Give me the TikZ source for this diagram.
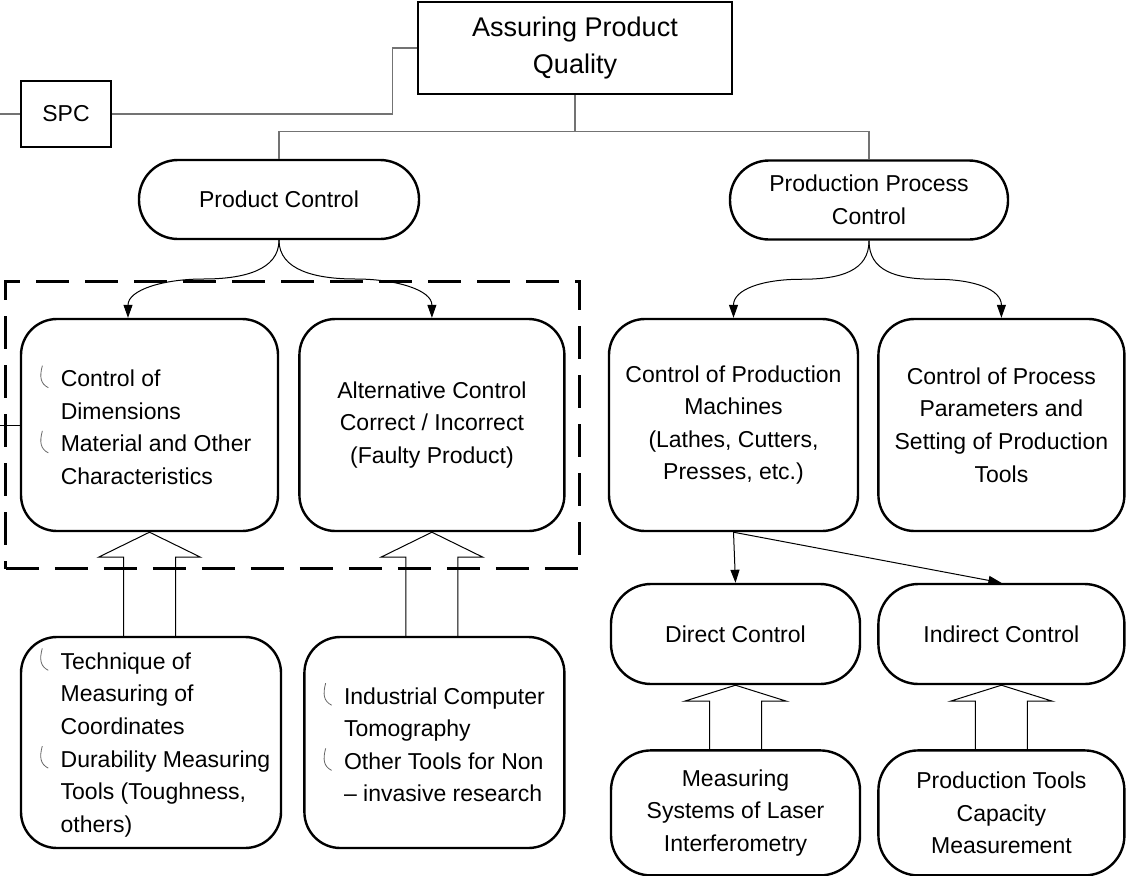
\documentclass[tikz,border=0pt]{standalone}
\usepackage{fontspec}
\setmainfont{Liberation Sans}
\usetikzlibrary{arrows.meta, positioning, fit, calc}

\newlength{\bulind}
\newcommand{\hookmark}{\tikz[baseline=0pt]\draw[line width=0.8pt, black!60] (2pt,21pt) .. controls (-1pt,10pt) and (0pt,3pt) .. (8pt,-1pt);}
\newcommand{\bul}{\hspace*{\bulind}\llap{\hookmark\hspace{12pt}}}
\newcommand{\ind}{\hspace*{\bulind}}

\begin{document}
\begin{tikzpicture}[x=1pt, y=-1pt,
    every node/.style={font=\fontsize{23}{32.6}\selectfont, inner sep=0pt},
    headbox/.style={draw, line width=2.4pt, minimum width=314pt, minimum height=92pt, align=center, font=\fontsize{27}{37}\selectfont},
    spcbox/.style={draw, line width=2.4pt, minimum width=90pt, minimum height=66pt},
    pill/.style={draw, line width=2.4pt, rounded corners=39pt, minimum height=79pt, align=center},
    bigbox/.style={draw, line width=2.4pt, rounded corners=36pt, minimum height=212pt, align=center},
    listbox/.style={bigbox, align=left, execute at begin node={\setlength{\bulind}{#1}}},
    lowbox/.style={draw, line width=2.4pt, rounded corners=40pt, align=center},
    elbow/.style={line width=1.1pt, black!55},
    flow/.style={-{Triangle[length=13pt, width=9pt]}, line width=1pt},
    hollow/.style={line width=1pt},
    group/.style={draw, line width=3pt, dash pattern=on 33pt off 16pt}
]

\useasboundingbox (0,0) rectangle (1126,875);

% Top of the tree
\node[headbox] (quality) at (575,48) {Assuring Product\\Quality};
\node[spcbox] (spc) at (66,114) {SPC};
\node[pill, minimum width=280pt] (prod) at (279,199.5) {Product Control};
\node[pill, minimum width=278pt] (proc) at (869,200) {Production Process\\Control};

% Product control branch
\node[listbox=13pt, minimum width=257pt] (dims) at (149.5,425) {\bul Control of\\\ind Dimensions\\\bul Material and Other\\\ind Characteristics};
\node[bigbox, minimum width=265pt, right=19pt of dims] (alt) {Alternative Control\\Correct / Incorrect\\(Faulty Product)};
\node[listbox=29pt, minimum width=260pt, minimum height=211pt] (coord) at (151,742.5) {\bul Technique of\\\ind Measuring of\\\ind Coordinates\\\bul Durability Measuring\\\ind Tools (Toughness,\\\ind others)};
\node[listbox=20pt, minimum width=260pt, minimum height=211pt, right=21pt of coord] (tomo) {\bul Industrial Computer\\\ind Tomography\\\bul Other Tools for Non\\\ind – invasive research};

% Production process branch
\node[bigbox, minimum width=249pt] (mach) at (733.5,425) {Control of Production\\Machines\\(Lathes, Cutters,\\Presses, etc.)};
\node[bigbox, minimum width=246pt, right=18pt of mach] (param) {Control of Process\\Parameters and\\Setting of Production\\Tools};
\node[lowbox, minimum width=249pt, minimum height=100pt] (direct) at (735.5,634) {Direct Control};
\node[lowbox, minimum width=246pt, minimum height=100pt, right=16pt of direct] (indirect) {Indirect Control};
\node[lowbox, minimum width=249pt, minimum height=125pt, below=64pt of direct] (laser) {Measuring\\Systems of Laser\\Interferometry};
\node[lowbox, minimum width=246pt, minimum height=125pt, below=64pt of indirect] (capacity) {Production Tools\\Capacity\\Measurement};

% Tree lines
\coordinate (bus) at ($(prod.north)+(0,-27)$);
\coordinate (spcin) at (0,114);
\coordinate (dimsin) at (0,425);
\draw[elbow] (quality.south) -- (quality.south |- bus);
\draw[elbow] (prod.north) -- (bus) -| (proc.north);
\draw[elbow] (spc.east) -- ++(280,0) |- (quality.west);
\draw[elbow] (spcin) -- (spc.west);
\draw[line width=1pt] (dimsin) -- (dims.west);

% Dashed group round the product checks
\node[group, fit=(dims)(alt), inner xsep=14pt, inner ysep=36.5pt] (check) {};

% Curved arrows
\coordinate (dimstip) at ($(dims.north)+(-21.5,0)$);
\coordinate (prodL) at ($(prod.south)!0.5!(dimstip)$);
\coordinate (prodR) at ($(prod.south)!0.5!(alt.north)$);
\coordinate (procL) at ($(proc.south)!0.5!(mach.north)$);
\coordinate (procR) at ($(proc.south)!0.5!(param.north)$);
\draw[flow] (prod.south) .. controls +(0,30) and +(40,0) .. (prodL) .. controls +(-40,0) and +(0,-28) .. (dimstip);
\draw[flow] (prod.south) .. controls +(0,30) and +(-40,0) .. (prodR) .. controls +(40,0) and +(0,-28) .. (alt.north);
\draw[flow] (proc.south) .. controls +(0,30) and +(40,0) .. (procL) .. controls +(-40,0) and +(0,-28) .. (mach.north);
\draw[flow] (proc.south) .. controls +(0,30) and +(-40,0) .. (procR) .. controls +(40,0) and +(0,-28) .. (param.north);

\draw[flow] (mach.south) -- (direct.north);
\draw[flow] (mach.south) -- (indirect.north);

% Hollow block arrows
\foreach \a/\b/\h in {coord/dims/25, tomo/alt/25, laser/direct/16, capacity/indirect/16} {
    \draw[hollow] ($(\b.south |- \a.north)+(-26,0)$) -- ($(\b.south)+(-26,\h)$) -- ($(\b.south)+(-51,\h)$) -- (\b.south)
        -- ($(\b.south)+(51,\h)$) -- ($(\b.south)+(26,\h)$) -- ($(\b.south |- \a.north)+(26,0)$);
}

\end{tikzpicture}
\end{document}
